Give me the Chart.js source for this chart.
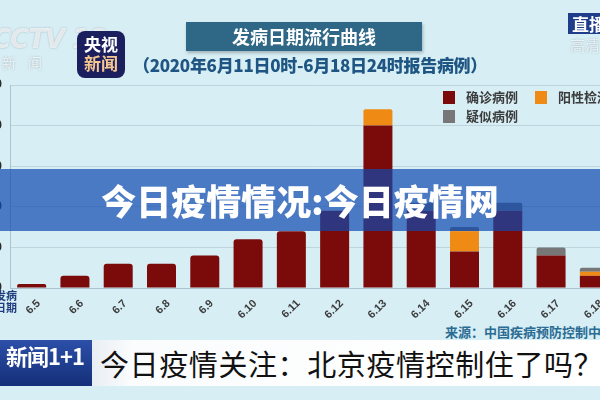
<!DOCTYPE html>
<html>
<head>
<meta charset="utf-8">
<script src="https://cdn.jsdelivr.net/npm/chart.js@4.4.1/dist/chart.umd.min.js"></script>
<style>
  html, body { margin: 0; padding: 0; }
  body {
    width: 600px; height: 400px; overflow: hidden; position: relative;
    background: #d7eef5;
    font-family: "Noto Sans CJK SC", "Noto Sans", sans-serif;
  }
  #chart { position: absolute; left: -25px; top: 0; }
  .abs { position: absolute; white-space: nowrap; }
  .title-box {
    left: 186px; top: 22px; width: 236px; height: 29px;
    background: #2f6886; color: #fff; font-weight: 700; font-size: 18px;
    line-height: 29px; text-align: center; box-shadow: 1px 2px 3px rgba(0,0,0,0.25);
  }
  .subtitle { left: 133px; top: 52px; font-size: 17px; font-weight: 900; color: #1f5582; letter-spacing: -0.3px; }
  .logo {
    left: 77px; top: 31px; width: 48px; height: 47px; border-radius: 8px;
    background: #1b1f5e; color: #fff; font-weight: 700; font-size: 17px;
    line-height: 19px; text-align: center; padding-top: 3px; box-sizing: border-box;
  }
  .logo span { color: #f6c690; }
  .cctv { left: -8px; top: 24px; font: italic 700 26px "DejaVu Sans", sans-serif; color: rgba(255,255,255,0.7); text-shadow: 0 0 2px #9fb3bb; letter-spacing: -1px; }
  .cctv2 { left: 2px; top: 52px; font-size: 14px; color: rgba(255,255,255,0.7); text-shadow: 0 0 2px #9fb3bb; letter-spacing: 12px; }
  .live { left: 568px; top: 13px; width: 40px; height: 21px; background: #1f3d8a; color: #fff; font-size: 17px; line-height: 21px; padding-left: 4px; font-weight: 700; }
  .live2 { left: 570px; top: 34px; font-size: 15px; color: rgba(255,255,255,0.7); text-shadow: 0 0 2px #9fb3bb; }
  .lg-box { width: 12px; height: 13px; }
  .lg-text { font-size: 13px; font-weight: 700; color: #3c3c3c; line-height: 14px; }
  .xtitle { left: -6px; top: 289px; font-size: 11px; font-weight: 700; color: #213d7d; line-height: 12px; text-align: right; width: 23px; }
  .banner {
    left: 0; top: 169px; width: 600px; height: 62px;
    background: rgba(15, 73, 175, 0.7); color: #fff; font-size: 35px; font-weight: 900;
    line-height: 62px; text-align: center;
  }
  .source { left: 445px; top: 322px; font-size: 13px; font-weight: 700; color: #2a6c93; }
  .bar-logo {
    left: 0; top: 340px; width: 92px; height: 46px;
    background: linear-gradient(#2c4fa8, #142f78); color: #fff; font-size: 22px; font-weight: 700;
    line-height: 30px; padding-left: 6px; box-sizing: border-box; letter-spacing: -1px;
  }
  .bar-text {
    left: 92px; top: 340px; width: 508px; height: 46px;
    background: linear-gradient(90deg, #e8eef3, #fbfcfd 8%, #ffffff); color: #111;
    font-size: 29px; line-height: 46px; padding-left: 8px; box-sizing: border-box; letter-spacing: 0.6px;
  }
</style>
</head>
<body>
<canvas id="chart" width="660" height="318"></canvas>

<div class="abs cctv">CCTV 13</div>
<div class="abs cctv2">新闻</div>
<div class="abs logo">央视<br><span>新闻</span></div>
<div class="abs title-box">发病日期流行曲线</div>
<div class="abs subtitle">（2020年6月11日0时-6月18日24时报告病例）</div>
<div class="abs live">直播</div>
<div class="abs live2">高清</div>

<div id="legend"></div>
<div class="abs xtitle">发病<br>日期</div>

<div class="abs banner">今日疫情情况:今日疫情网</div>
<div class="abs source">来源：中国疾病预防控制中心</div>
<div class="abs bar-logo">新闻1+1</div>
<div class="abs bar-text">今日疫情关注：北京疫情控制住了吗？</div>

<script>
// onset dates (x axis)
const categories = ['6.5', '6.6', '6.7', '6.8', '6.9', '6.10', '6.11', '6.12', '6.13', '6.14', '6.15', '6.16', '6.17', '6.18'];

// cases per onset date
const confirmed = [1, 3, 6, 6, 8, 12, 14, 19, 40, 19, 9, 19, 8, 3];
const positive  = [0, 0, 0, 0, 0, 0, 0, 0, 4, 0, 5, 0, 0, 1];
const suspected = [0, 0, 0, 0, 0, 0, 0, 0, 0, 2, 1, 2, 2, 1];

const seriesNames = ['确诊病例', '阳性检测', '疑似病例'];
const seriesColors = ['#7b0b0b', '#ef8a14', '#777777'];

const yTicks = [0, 10, 20, 30, 40, 50];

// legend drawn as html, it sits inside the plot at top right
const legendPos = [[443, 91], [535, 91], [443, 110]];
const legendEl = document.getElementById('legend');
for (let i = 0; i < seriesNames.length; i++) {
    const box = document.createElement('div');
    box.className = 'abs lg-box';
    box.style.left = legendPos[i][0] + 'px';
    box.style.top = legendPos[i][1] + 'px';
    box.style.background = seriesColors[i];
    legendEl.appendChild(box);

    const txt = document.createElement('div');
    txt.className = 'abs lg-text';
    txt.style.left = (legendPos[i][0] + 23) + 'px';
    txt.style.top = (legendPos[i][1] - 1) + 'px';
    txt.textContent = seriesNames[i];
    legendEl.appendChild(txt);
}

const ctx = document.getElementById('chart');

const chart = new Chart(ctx, {
    type: 'bar',
    data: {
        labels: categories,
        datasets: [{
            label: seriesNames[0],
            data: confirmed,
            backgroundColor: seriesColors[0],
            borderRadius: 3,
        }, {
            label: seriesNames[1],
            data: positive,
            backgroundColor: seriesColors[1],
            borderRadius: 2,
        }, {
            label: seriesNames[2],
            data: suspected,
            backgroundColor: seriesColors[2],
            borderRadius: 2,
        }]
    },
    options: {
        responsive: false,
        animation: false,
        devicePixelRatio: 1,
        layout: {
            padding: { top: 85, left: 0, right: 19, bottom: 0 }
        },
        datasets: {
            bar: {
                categoryPercentage: 1,
                barPercentage: 0.67,
            }
        },
        plugins: {
            legend: { display: false },
            tooltip: { enabled: false },
        },
        scales: {
            x: {
                stacked: true,
                afterFit: (scale) => { scale.height = 30; },
                grid: { display: false, drawTicks: false },
                border: { display: true, color: '#a9c3cf', width: 1 },
                ticks: {
                    color: '#3d3d3d',
                    font: { size: 11, weight: 'bold', family: 'Liberation Sans, Arial, sans-serif' },
                    minRotation: 45,
                    maxRotation: 45,
                    autoSkip: false,
                    padding: 9,
                    labelOffset: 7,
                }
            },
            y: {
                stacked: true,
                min: 0,
                max: 50,
                afterFit: (scale) => { scale.width = 35; },
                afterBuildTicks: (scale) => { scale.ticks = yTicks.map(v => ({ value: v })); },
                grid: { color: '#bfd5de', drawTicks: false },
                border: { display: true, color: '#a9c3cf', width: 1 },
                ticks: {
                    color: '#2a2a2a',
                    padding: 8,
                    font: { size: 12, weight: 'bold', family: 'Liberation Sans, Arial, sans-serif' },
                }
            }
        }
    }
});
</script>
</body>
</html>
